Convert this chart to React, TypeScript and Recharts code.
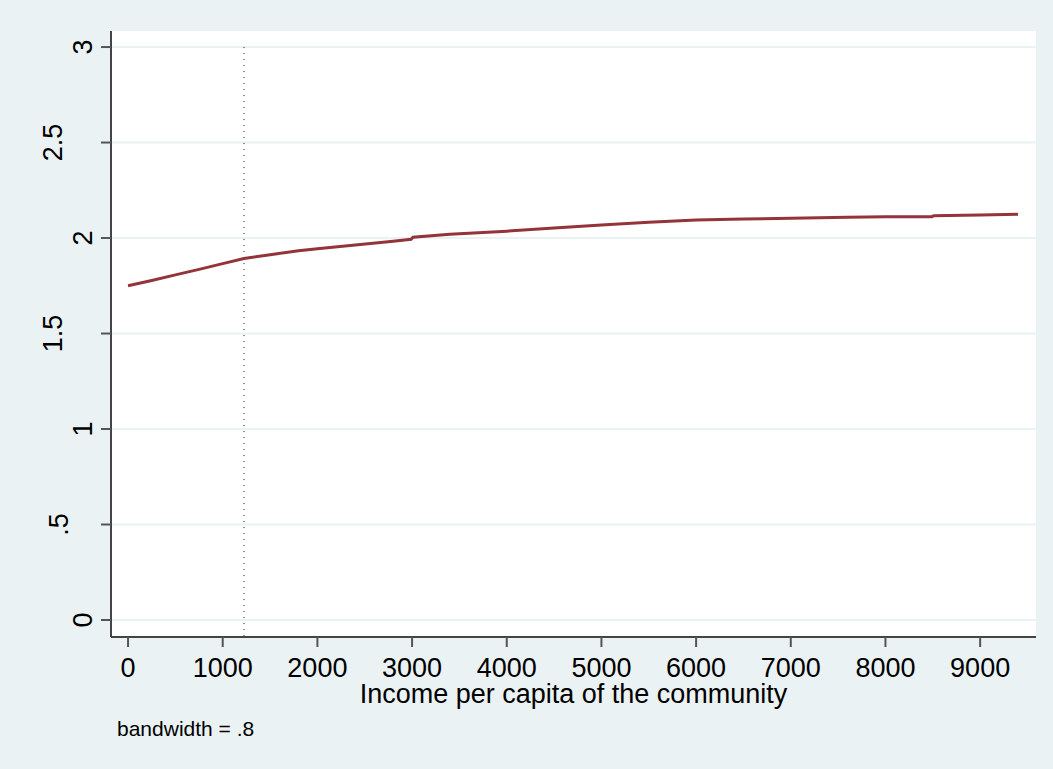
import React from 'react';
import {
  LineChart,
  Line,
  XAxis,
  YAxis,
  CartesianGrid,
  ReferenceLine,
  Label,
} from 'recharts';

// lowess fit
const incomes = [
  0, 250, 500, 750, 1000, 1225, 1500, 1800, 2000, 2400, 2800, 2990, 3010, 3400,
  4000, 4500, 5000, 5500, 6000, 6500, 7000, 7600, 8000, 8490, 8510, 9000, 9400,
];
const fitted = [
  1.75, 1.778, 1.807, 1.836, 1.866, 1.893, 1.913, 1.933, 1.944, 1.963, 1.983,
  1.993, 2.004, 2.02, 2.036, 2.052, 2.068, 2.083, 2.094, 2.099, 2.104, 2.109,
  2.111, 2.112, 2.117, 2.12, 2.124,
];
const xTicks = [0, 1000, 2000, 3000, 4000, 5000, 6000, 7000, 8000, 9000];
const yTicks = [0, 0.5, 1, 1.5, 2, 2.5, 3];
const yTickLabels = ['0', '.5', '1', '1.5', '2', '2.5', '3'];
const cutoff = 1225;

const data = incomes.map((income, i) => ({ income, fit: fitted[i] }));

const BG = '#EAF2F3';
const FONT = '"Liberation Sans", Arial, sans-serif';

const XTick = (props: any) => {
  const { x, y, payload } = props;
  return (
    <text x={x} y={y + 30} textAnchor="middle" fontSize={27} fontFamily={FONT} fill="#000">
      {payload.value}
    </text>
  );
};

const YTick = (props: any) => {
  const { x, y, payload } = props;
  const label = yTickLabels[yTicks.indexOf(payload.value)] ?? String(payload.value);
  const shift = label.length === 1 ? 9 : label.length === 2 ? 33 : 39;
  const bx = x - shift;
  return (
    <text
      x={bx}
      y={y}
      transform={`rotate(-90, ${bx}, ${y})`}
      textAnchor="middle"
      fontSize={27}
      fontFamily={FONT}
      fill="#000"
    >
      {label}
    </text>
  );
};

const XTitle = (props: any) => {
  const vb = props.viewBox || {};
  return (
    <g>
      <text
        x={vb.x + vb.width / 2}
        y={vb.y + 66}
        textAnchor="middle"
        fontSize={27}
        fontFamily={FONT}
        fill="#000"
      >
        Income per capita of the community
      </text>
      <text x={117} y={vb.y + 99} fontSize={21} fontFamily={FONT} fill="#000">
        bandwidth = .8
      </text>
    </g>
  );
};

export default function App() {
  return (
    <div style={{ position: 'fixed', left: 0, top: 0, width: 1053, height: 769, background: BG }}>
      <LineChart
        width={1053}
        height={769}
        data={data}
        margin={{ top: 31, right: 17, left: 0, bottom: 0 }}
      >
        <CartesianGrid
          fill="#ffffff"
          vertical={false}
          stroke={BG}
          strokeWidth={2}
          horizontalValues={yTicks}
        />
        <XAxis
          type="number"
          dataKey="income"
          domain={[-180, 9590]}
          ticks={xTicks}
          allowDataOverflow
          height={132}
          tickSize={10}
          tickMargin={0}
          tick={<XTick />}
          axisLine={{ stroke: '#444', strokeWidth: 2 }}
          tickLine={{ stroke: '#555', strokeWidth: 2 }}
        >
          <Label content={<XTitle />} />
        </XAxis>
        <YAxis
          type="number"
          domain={[-0.089, 3.084]}
          ticks={yTicks}
          allowDataOverflow
          width={111}
          tickSize={10}
          tickMargin={0}
          tick={<YTick />}
          axisLine={{ stroke: '#444', strokeWidth: 2 }}
          tickLine={{ stroke: '#555', strokeWidth: 2 }}
        />
        <ReferenceLine
          segment={[
            { x: cutoff, y: 3 },
            { x: cutoff, y: -0.105 },
          ]}
          ifOverflow="visible"
          stroke="#222"
          strokeWidth={1}
          strokeDasharray="1 5"
        />
        <Line
          type="linear"
          dataKey="fit"
          stroke="#943339"
          strokeWidth={3}
          dot={false}
          isAnimationActive={false}
        />
      </LineChart>
    </div>
  );
}
